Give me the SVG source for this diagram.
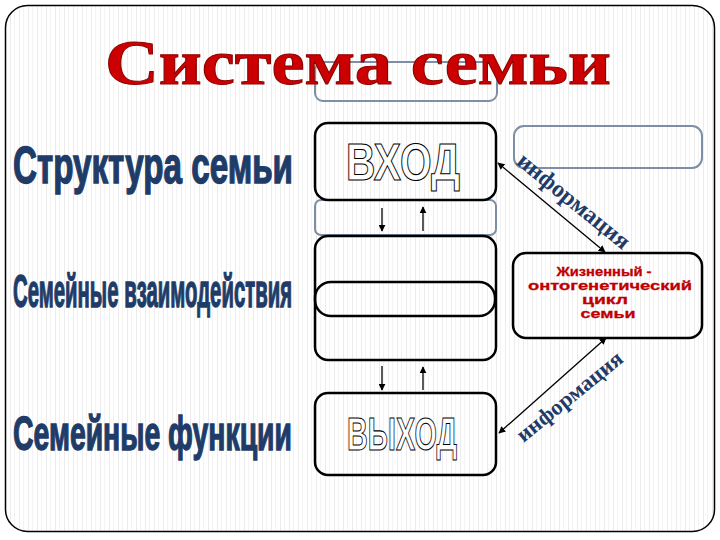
<svg xmlns="http://www.w3.org/2000/svg" width="720" height="540" viewBox="0 0 720 540">
<defs>
<pattern id="bg" x="0" y="0" width="9" height="10" patternUnits="userSpaceOnUse">
<rect width="9" height="10" fill="#ffffff"/>
<rect x="1" width="1" height="10" fill="#ececec"/>
<rect x="5" width="1" height="10" fill="#f3f3f3"/>
</pattern>
<marker id="ah" viewBox="0 0 10 10" refX="9" refY="5" markerWidth="7" markerHeight="7" markerUnits="userSpaceOnUse" orient="auto-start-reverse">
<path d="M0,0 L10,5 L0,10 z" fill="#000"/>
</marker>
<style>
.gbox{fill:none;stroke:#7d8ea6;stroke-width:2}
.bbox{fill:none;stroke:#000;stroke-width:2.5}
.outl{font-family:"Liberation Sans",Arial,sans-serif;font-weight:bold;fill:#fff;stroke:#000;stroke-width:1.1}
.left{font-family:"Liberation Sans",Arial,sans-serif;font-weight:bold;fill:#1f3c68;stroke:#1f3c68;stroke-width:0.9}
.life{font-family:"Liberation Sans",Arial,sans-serif;font-weight:bold;fill:#c00000;stroke:#c00000;stroke-width:0.3;font-size:13px;text-anchor:middle}
.info{font-family:"Liberation Serif","Times New Roman",serif;font-weight:bold;fill:#1f3c68;text-anchor:middle}
.con{stroke:#000;stroke-width:1.3;fill:none}
</style>
</defs>
<rect x="5.5" y="5.5" width="709" height="526" rx="22" fill="url(#bg)" stroke="#000" stroke-width="1.5"/>

<g id="title-box"><rect class="gbox" x="315" y="62" width="182" height="39" rx="8"/></g>
<g id="title"><text x="105" y="84" font-family="'Liberation Serif','Times New Roman',serif" font-weight="bold" font-size="63" fill="#cc0000" stroke="#8b0000" stroke-width="1" textLength="506" lengthAdjust="spacingAndGlyphs">Система семьи</text></g>

<g id="label-structure"><text class="left" transform="translate(13,183) scale(1,1.6)" textLength="280" lengthAdjust="spacingAndGlyphs" font-size="32">Структура семьи</text></g>
<g id="label-interaction"><text class="left" transform="translate(13,307) scale(1,1.6)" textLength="279" lengthAdjust="spacingAndGlyphs" font-size="29">Семейные взаимодействия</text></g>
<g id="label-functions"><text class="left" transform="translate(13,450) scale(1,1.6)" textLength="279" lengthAdjust="spacingAndGlyphs" font-size="30">Семейные функции</text></g>

<g id="gray-box-mid"><rect class="gbox" x="315" y="200" width="181" height="35" rx="6"/></g>
<g id="vhod"><rect class="bbox" x="315" y="123" width="181" height="77" rx="13"/>
<text class="outl" x="346" y="180" font-size="52" textLength="114" lengthAdjust="spacingAndGlyphs">ВХОД</text></g>

<g id="middle"><rect class="bbox" x="315" y="236" width="181" height="124" rx="13"/></g>
<g id="middle-inner"><rect class="bbox" x="315" y="282" width="180" height="34" rx="16"/></g>

<g id="vyhod"><rect class="bbox" x="315" y="393" width="181" height="82" rx="13"/>
<text class="outl" x="347" y="450" font-size="46" textLength="110" lengthAdjust="spacingAndGlyphs">ВЫХОД</text></g>

<g id="right-box"><rect class="gbox" x="514" y="126" width="188" height="42" rx="10"/></g>

<g id="life-cycle"><rect class="bbox" x="513" y="253" width="189" height="85" rx="13"/>
<text class="life" x="604" y="276" textLength="95" lengthAdjust="spacingAndGlyphs">Жизненный -</text>
<text class="life" x="610" y="290" textLength="164" lengthAdjust="spacingAndGlyphs">онтогенетический</text>
<text class="life" x="605" y="304" textLength="46" lengthAdjust="spacingAndGlyphs">цикл</text>
<text class="life" x="608" y="318" textLength="55" lengthAdjust="spacingAndGlyphs">семьи</text></g>

<g id="connectors">
<line class="con" x1="382" y1="208" x2="382" y2="231" marker-end="url(#ah)"/>
<line class="con" x1="423" y1="231" x2="423" y2="207" marker-end="url(#ah)"/>
<line class="con" x1="382" y1="366" x2="382" y2="390" marker-end="url(#ah)"/>
<line class="con" x1="423" y1="390" x2="423" y2="367" marker-end="url(#ah)"/>
<line class="con" x1="605" y1="252" x2="498" y2="163" marker-start="url(#ah)" marker-end="url(#ah)"/>
<line class="con" x1="499" y1="433" x2="606" y2="338" marker-start="url(#ah)" marker-end="url(#ah)"/>
</g>

<g id="info-upper"><text class="info" transform="translate(569,207) rotate(39)" font-size="24" textLength="138" lengthAdjust="spacingAndGlyphs">информация</text></g>
<g id="info-lower"><text class="info" transform="translate(574,402) rotate(-39)" font-size="22" textLength="130" lengthAdjust="spacingAndGlyphs">информация</text></g>
</svg>
